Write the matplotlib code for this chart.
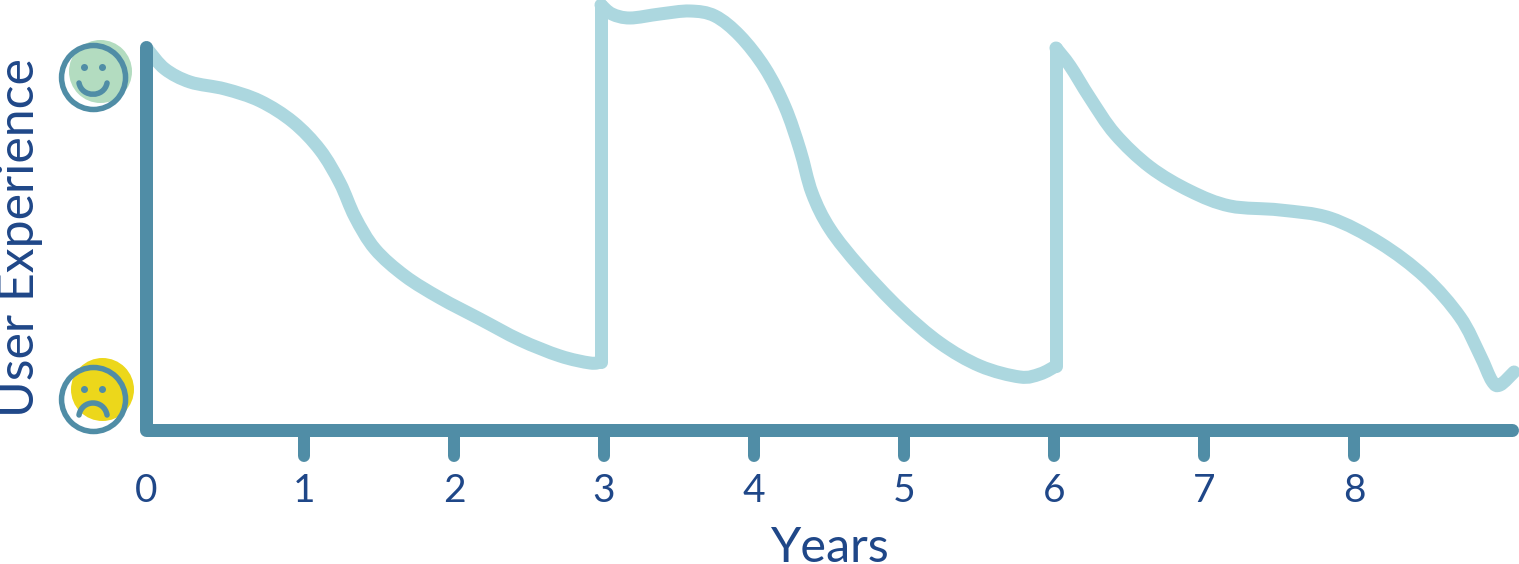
"""Sawtooth user experience curve over years, with smiley markers on the y axis."""

import matplotlib

matplotlib.use("Agg")
import matplotlib.pyplot as plt  # noqa: E402
import numpy as np  # noqa: E402
from matplotlib.path import Path  # noqa: E402
from matplotlib.patches import PathPatch  # noqa: E402

PX = 0.72  # points per pixel at dpi 100

TICK_YEARS = [1, 2, 3, 4, 5, 6, 7, 8]
TICK_LABELS = ["1", "2", "3", "4", "5", "6", "7", "8"]
ZERO_X = -0.053

# the three sawtooth runs
years_a = [-0.04, 0.073, 0.24, 0.473, 0.707, 0.927, 1.107, 1.24, 1.34, 1.473, 1.673, 1.907,
           2.173, 2.44, 2.707, 2.907, 2.98]
score_a = [380, 361, 348, 341, 329, 308, 280, 247, 213, 181, 154, 132,
           111, 90, 74, 67, 68]
years_b = [2.98, 3.053, 3.173, 3.373, 3.573, 3.74, 3.907, 4.073, 4.207, 4.307, 4.387, 4.507,
           4.707, 4.973, 5.24, 5.507, 5.773, 5.907, 6.013]
score_b = [425, 416, 412, 416, 419, 414, 394, 362, 323, 280, 237, 201,
           163, 121, 87, 64, 53, 56, 64]
years_c = [6.013, 6.107, 6.24, 6.407, 6.64, 6.907, 7.173, 7.507, 7.84, 8.173, 8.473, 8.707,
           8.84, 8.92, 8.973, 9.067]
score_c = [382, 364, 332, 296, 263, 239, 224, 220, 212, 187, 153, 113,
           75, 49, 45, 58]

AXIS = "#508da6"
CURVE = "#acd7df"
INK = "#1f4788"
GREEN = "#b3dcc0"
YELLOW = "#ecd71b"


def smooth_path(xs, ys):
    """Catmull-Rom run through the read points, as cubic Bezier pieces."""
    p = np.column_stack([np.asarray(xs, dtype=float), np.asarray(ys, dtype=float)])
    q = np.vstack([p[0], p, p[-1]])
    verts = [p[0]]
    for i in range(1, len(q) - 2):
        verts.append(q[i] + (q[i + 1] - q[i - 1]) / 6)
        verts.append(q[i + 1] - (q[i + 2] - q[i]) / 6)
        verts.append(q[i + 1])
    codes = [Path.MOVETO] + [Path.CURVE4] * (len(verts) - 1)
    return Path(verts, codes)


def stroke(ax, path, color, width_px, zorder=2):
    ax.add_patch(PathPatch(path, fc="none", ec=color, lw=width_px * PX, capstyle="round",
                           joinstyle="round", zorder=zorder))


def face(ax, blob_xy, blob_color, ring_xy, eye_y, mouth_y, mouth_ctrl_y):
    ax.scatter(*blob_xy, s=(63 * PX) ** 2, color=blob_color, lw=0, zorder=3)
    ax.scatter(*ring_xy, s=(64 * PX) ** 2, facecolor="none", edgecolor=AXIS, lw=5.5 * PX, zorder=4)
    ax.scatter([-0.467, -0.347], [eye_y, eye_y], s=(7 * PX) ** 2, color=AXIS, lw=0, zorder=4)
    mouth = Path([(-0.5, mouth_y), (-0.48, mouth_ctrl_y), (-0.333, mouth_ctrl_y), (-0.313, mouth_y)],
                 [Path.MOVETO, Path.CURVE4, Path.CURVE4, Path.CURVE4])
    stroke(ax, mouth, AXIS, 5.5, zorder=4)


fig = plt.figure(figsize=(15.19, 5.64), dpi=100)
ax = fig.add_axes([0, 0, 1, 1])
ax.set_xlim(-154 / 150, (1519 - 154) / 150)
ax.set_ylim(-134, 430)
ax.axis("off")

plt.rcParams["font.family"] = ["Lato", "DejaVu Sans"]

for xs, ys in [(years_a, score_a), (years_b, score_b), (years_c, score_c)]:
    stroke(ax, smooth_path(xs, ys), CURVE, 13)
# the jumps back up at each replacement
ax.plot([years_a[-1], years_b[0]], [score_a[-1], score_b[0]], color=CURVE, lw=13 * PX,
        solid_capstyle="round", zorder=2)
ax.plot([years_b[-1], years_c[0]], [score_b[-1], score_c[0]], color=CURVE, lw=13 * PX,
        solid_capstyle="round", zorder=2)

ax.plot([ZERO_X, ZERO_X, 9.053], [383, 0, 0], color=AXIS, lw=13 * PX, solid_capstyle="round",
        solid_joinstyle="round", zorder=3)
ax.vlines([t - 0.002 for t in TICK_YEARS], -26, 0, color=AXIS, lw=12 * PX, capstyle="round", zorder=3)

ax.text(ZERO_X, -72, "0", color=INK, fontsize=28, ha="center", va="baseline")
for t, label in zip(TICK_YEARS, TICK_LABELS):
    ax.text(t, -72, label, color=INK, fontsize=28, ha="center", va="baseline")

ax.text(4.5, -132, "Years", color=INK, fontsize=35, ha="center", va="baseline")
ax.text(20 / 150 - 154 / 150, 192, "User Experience", color=INK, fontsize=36, rotation=90,
        ha="center", va="center")

face(ax, (-0.363, 359), GREEN, (-0.403, 352.5), 363, 347, 332)
face(ax, (-0.35, 41.5), YELLOW, (-0.403, 30.5), 41.5, 15, 31)

fig.savefig("out.png", dpi=100)
plt.close(fig)
